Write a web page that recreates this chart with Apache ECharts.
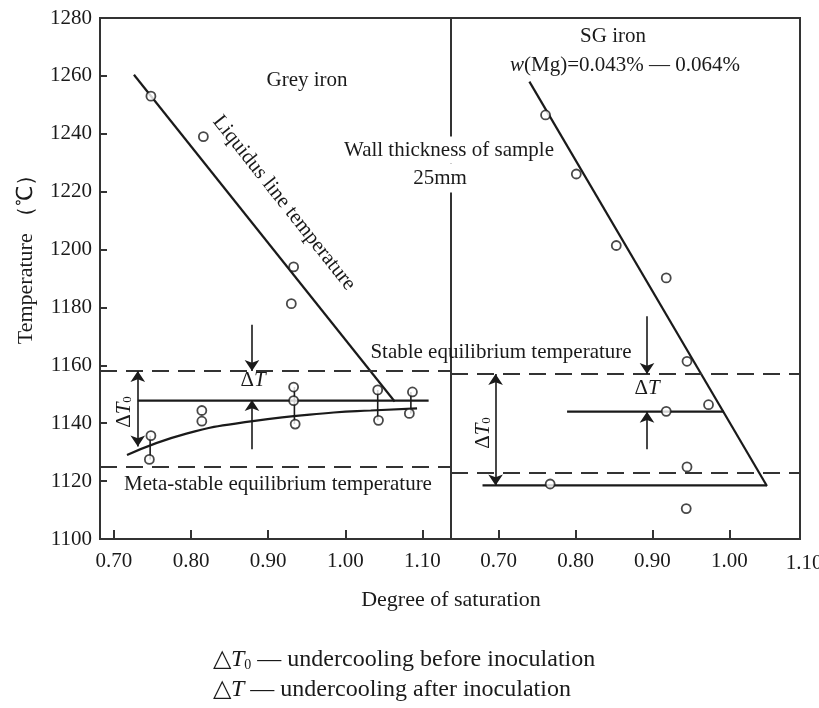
<!DOCTYPE html>
<html>
<head>
<meta charset="utf-8">
<script src="https://cdn.jsdelivr.net/npm/echarts@6.0.0/dist/echarts.min.js"></script>
<style>
  html, body { margin: 0; padding: 0; background: #fff; }
  #chart { width: 819px; height: 708px; }
</style>
</head>
<body>
<div id="chart"></div>
<script type="text/javascript">
// tick labels
var xTicks = [0.7, 0.8, 0.9, 1.0, 1.1];
var xTicksSg = [0.7, 0.8, 0.9, 1.0];

// grey iron (left panel)
var greyLiquidus = [[0.726, 1260.4], [1.064, 1147.5]];
var greyInoculated = [[0.731, 1147.8], [1.108, 1147.8]];
var greyCurve = [[0.717, 1129], [0.794, 1136.4], [0.880, 1140.7], [0.985, 1143.7], [1.033, 1144.4], [1.093, 1145.1]];
var greyPoints = [
  [0.748, 1253], [0.816, 1239], [0.933, 1194], [0.930, 1181.3],
  [0.748, 1135.7], [0.746, 1127.5], [0.814, 1144.4], [0.814, 1140.7],
  [0.933, 1152.5], [0.933, 1147.8], [0.935, 1139.7],
  [1.042, 1151.5], [1.043, 1141], [1.087, 1150.8], [1.083, 1143.4]
];
var greyBarX = [0.747, 0.934, 1.042, 1.085];
var greyBarLow = [1127.5, 1139.7, 1141, 1143.4];
var greyBarHigh = [1135.7, 1152.5, 1151.5, 1150.8];
var greyStable = 1158;
var greyMeta = 1125;
var greyDtX = 0.879, greyDtTop = [1174, 1158], greyDtBottom = [1131, 1148];
var greyDt0X = 0.731, greyDt0Span = [1158, 1132];

// SG iron (right panel)
var sgLiquidus = [[0.740, 1258], [1.049, 1118.3]];
var sgBase = [[0.679, 1118.5], [1.049, 1118.5]];
var sgInoculated = [[0.789, 1144], [0.993, 1144]];
var sgPoints = [
  [0.761, 1246.5], [0.801, 1226.1], [0.853, 1201.4], [0.918, 1190.2],
  [0.945, 1161.4], [0.973, 1146.4], [0.918, 1144.1], [0.945, 1124.9],
  [0.767, 1119], [0.944, 1110.5]
];
var sgStable = 1157;
var sgMeta = 1123;
var sgDtX = 0.893, sgDtTop = [1177, 1157], sgDtBottom = [1131, 1144];
var sgDt0X = 0.696, sgDt0Span = [1157, 1118.5];

var serif = '"Liberation Serif", "Times New Roman", serif';
var ink = '#1a1a1a';
var dash = { type: [17, 9], width: 1.8, color: '#333' };

function xAxisCfg(grid, min, max, ticks) {
  return {
    gridIndex: grid, type: 'value', min: min, max: max,
    axisLine: { show: true, onZero: false, lineStyle: { color: '#333', width: 2 } },
    axisTick: { show: true, inside: true, length: 9, customValues: ticks, lineStyle: { color: '#333', width: 2 } },
    axisLabel: { customValues: ticks, formatter: function (v) { return v.toFixed(2); },
      color: ink, fontFamily: serif, fontSize: 21, margin: 12 },
    splitLine: { show: false }
  };
}

function arrow(x, from, to) {
  return [{ coord: [x, from], symbol: 'none' }, { coord: [x, to], symbol: 'arrow' }];
}
function doubleArrow(x, span) {
  return [{ coord: [x, span[0]], symbol: 'arrow' }, { coord: [x, span[1]], symbol: 'arrow' }];
}

function lineSeries(data, grid, extra) {
  var s = {
    type: 'line', xAxisIndex: grid, yAxisIndex: grid, data: data,
    symbol: 'none', silent: true, animation: false,
    lineStyle: { color: ink, width: 2.2 }
  };
  for (var k in extra) s[k] = extra[k];
  return s;
}

function dashedMarks(values) {
  return {
    silent: true, animation: false, symbol: 'none', label: { show: false },
    lineStyle: dash,
    data: values.map(function (v) { return { yAxis: v }; })
  };
}
function arrowMarks(items) {
  return {
    silent: true, animation: false, symbolSize: 11, label: { show: false },
    lineStyle: { color: ink, width: 1.6, type: 'solid' },
    data: items
  };
}

var series = [];
series.push(lineSeries(greyLiquidus, 0, { markLine: dashedMarks([greyStable, greyMeta]) }));
series.push(lineSeries(greyInoculated, 0, {
  markLine: arrowMarks([
    arrow(greyDtX, greyDtTop[0], greyDtTop[1]),
    arrow(greyDtX, greyDtBottom[0], greyDtBottom[1]),
    doubleArrow(greyDt0X, greyDt0Span)
  ])
}));
series.push(lineSeries(greyCurve, 0, { smooth: true }));
for (var i = 0; i < greyBarX.length; i++) {
  series.push(lineSeries([[greyBarX[i], greyBarLow[i]], [greyBarX[i], greyBarHigh[i]]], 0, { lineStyle: { color: ink, width: 1.6 } }));
}
series.push({
  type: 'scatter', xAxisIndex: 0, yAxisIndex: 0, data: greyPoints, z: 5,
  symbol: 'circle', symbolSize: 9, silent: true, animation: false,
  itemStyle: { color: '#fff', borderColor: ink, borderWidth: 1.8 }
});

series.push(lineSeries(sgLiquidus, 1, { markLine: dashedMarks([sgStable, sgMeta]) }));
series.push(lineSeries(sgBase, 1));
series.push(lineSeries(sgInoculated, 1, {
  markLine: arrowMarks([
    arrow(sgDtX, sgDtTop[0], sgDtTop[1]),
    arrow(sgDtX, sgDtBottom[0], sgDtBottom[1]),
    doubleArrow(sgDt0X, sgDt0Span)
  ])
}));
series.push({
  type: 'scatter', xAxisIndex: 1, yAxisIndex: 1, data: sgPoints, z: 5,
  symbol: 'circle', symbolSize: 9, silent: true, animation: false,
  itemStyle: { color: '#fff', borderColor: ink, borderWidth: 1.8 }
});

var richDelta = {
  d: { fontFamily: serif, fontSize: 21, fill: ink },
  i: { fontFamily: serif, fontSize: 21, fontStyle: 'italic', fill: ink },
  s: { fontFamily: serif, fontSize: 13, fill: ink, verticalAlign: 'bottom', padding: [8, 0, 0, 0] }
};

function txt(text, x, y, size, opts) {
  var el = {
    type: 'text', x: x, y: y, z: 10, silent: true,
    style: { text: text, fill: ink, font: size + 'px ' + serif, textAlign: 'center', textVerticalAlign: 'middle' }
  };
  if (opts) {
    if (opts.rotation !== undefined) el.rotation = opts.rotation;
    for (var k in opts.style || {}) el.style[k] = opts.style[k];
  }
  return el;
}

var footRich = {
  d: { fontFamily: serif, fontSize: 24, fill: ink },
  i: { fontFamily: serif, fontSize: 24, fontStyle: 'italic', fill: ink },
  s: { fontFamily: serif, fontSize: 14, fill: ink, verticalAlign: 'bottom', padding: [9, 0, 0, 0] },
  n: { fontFamily: serif, fontSize: 24, fill: ink }
};

var graphics = [
  txt('Grey iron', 307, 80, 21),
  txt('Liquidus line temperature', 284, 203, 21, { rotation: -0.9 }),
  txt('Wall thickness of sample', 449, 150, 21, { style: { backgroundColor: '#fff', padding: [4, 2, 2, 2] } }),
  txt('25mm', 440, 178, 21, { style: { backgroundColor: '#fff', padding: [2, 2, 6, 2] } }),
  txt('SG iron', 613, 36, 21),
  txt('{i|w}(Mg)=0.043% — 0.064%', 625, 65, 21, { style: { rich: { i: { fontFamily: serif, fontSize: 21, fontStyle: 'italic', fill: ink } } } }),
  txt('Stable equilibrium temperature', 501, 352, 21),
  txt('Meta-stable equilibrium temperature', 283, 484, 21, { style: { backgroundColor: '#fff', padding: [0, 14, 6, 4] } }),
  txt('{d|Δ}{i|T}', 253, 380, 21, { style: { rich: richDelta } }),
  txt('{d|Δ}{i|T}', 647, 388, 21, { style: { rich: richDelta } }),
  txt('{d|Δ}{i|T}{s|0}', 124, 412, 21, { rotation: Math.PI / 2, style: { rich: richDelta } }),
  txt('{d|Δ}{i|T}{s|0}', 483, 433, 21, { rotation: Math.PI / 2, style: { rich: richDelta } }),
  txt('Temperature （℃）', 26, 254, 22, { rotation: Math.PI / 2 }),
  txt('Degree of saturation', 451, 600, 22),
  txt('1.10', 804, 563, 21),
  txt('{d|△}{i|T}{s|0}{n| — undercooling before inoculation}', 213, 660, 24, { style: { textAlign: 'left', rich: footRich } }),
  txt('{d|△}{i|T}{n| — undercooling after inoculation}', 213, 690, 24, { style: { textAlign: 'left', rich: footRich } })
];

var myChart = echarts.init(document.getElementById('chart'), null, { renderer: 'canvas' });
var option = {
  backgroundColor: '#fff',
  animation: false,
  grid: [
    { left: 100, top: 18, width: 351, height: 521, show: true, borderColor: '#333', borderWidth: 2, backgroundColor: 'transparent' },
    { left: 451, top: 18, width: 349, height: 521, show: true, borderColor: '#333', borderWidth: 2, backgroundColor: 'transparent' }
  ],
  xAxis: [
    xAxisCfg(0, 0.682, 1.137, xTicks),
    xAxisCfg(1, 0.638, 1.092, xTicksSg)
  ],
  yAxis: [
    {
      gridIndex: 0, type: 'value', min: 1100, max: 1280, interval: 20,
      axisLine: { show: true, lineStyle: { color: '#333', width: 2 } },
      axisTick: { show: true, inside: true, length: 7, lineStyle: { color: '#333', width: 2 } },
      axisLabel: { color: ink, fontFamily: serif, fontSize: 21, margin: 8, formatter: function (v) { return String(v); } },
      splitLine: { show: false }
    },
    { gridIndex: 1, type: 'value', min: 1100, max: 1280, interval: 20, show: false, splitLine: { show: false } }
  ],
  series: series,
  graphic: graphics
};
myChart.setOption(option);
</script>
</body>
</html>
